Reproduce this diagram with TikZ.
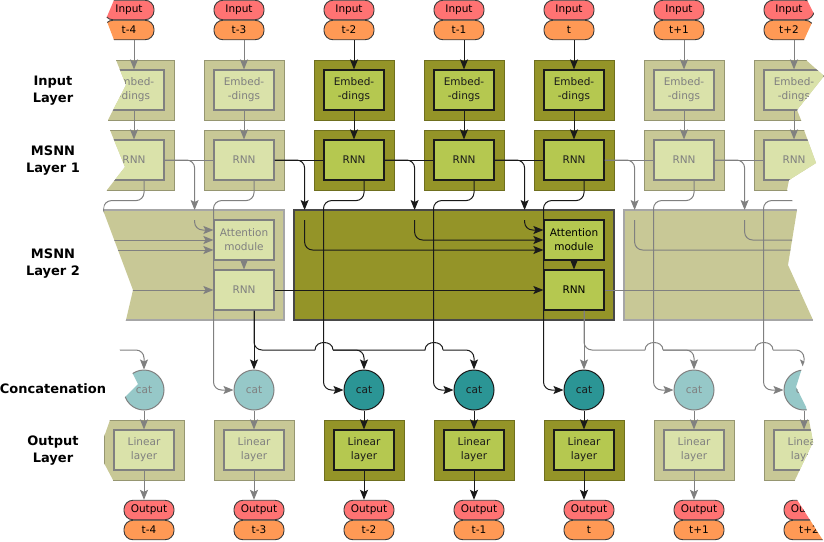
\documentclass[tikz,border=0pt]{standalone}
\usepackage{fontspec}
\setmainfont{DejaVu Sans}
\usetikzlibrary{arrows.meta, positioning, calc}
\definecolor{olivedeep}{HTML}{949428}
\definecolor{olivepale}{HTML}{C8C896}
\definecolor{limedeep}{HTML}{B5C850}
\definecolor{limepale}{HTML}{DAE2AA}
\definecolor{tealdeep}{HTML}{2B9595}
\definecolor{tealpale}{HTML}{96C8C8}
\definecolor{salmonpill}{HTML}{FF7373}
\definecolor{orangepill}{HTML}{FF9955}
\definecolor{wiregray}{HTML}{808080}
\definecolor{inkdark}{HTML}{1A1A1A}

\tikzset{
  arr/.style={-{Stealth[length=10pt,width=8pt,inset=2pt]}},
  wire/.style={line width=1pt},
  hop/.style={to path={.. controls ($(\tikztostart)+(0,-10)$) and ($(\tikztotarget)+(0,-10)$) .. (\tikztotarget)}},
  wrapbox/.style={rectangle, minimum width=80pt, minimum height=60pt, inner sep=0pt, line width=0.8pt},
  cellbox/.style={rectangle, minimum width=60pt, minimum height=40pt, inner sep=0pt, line width=1.2pt, align=center, font=\fontsize{10.5}{14}\selectfont},
  pill/.style={rectangle, rounded corners=9pt, minimum width=50pt, minimum height=19.5pt, inner sep=0pt, draw=inkdark!85, line width=0.9pt, font=\fontsize{10.5}{12}\selectfont},
  catnode/.style={circle, minimum size=40pt, inner sep=0pt, line width=1pt, font=\fontsize{10.5}{12}\selectfont},
  blockbox/.style={rectangle, minimum height=110pt, inner sep=0pt, line width=1.5pt},
  rowlabel/.style={align=center, font=\fontsize{13}{17}\selectfont\bfseries},
}

\begin{document}
\begin{tikzpicture}[x=1pt, y=-1pt]
  \useasboundingbox (0,0) rectangle (824,541);
  \begin{scope}
    % torn edges left and right
    \clip (114,-2) -- (114,0) -- (106,19) -- (114,40) -- (116,60) -- (126,85) -- (108,120)
      -- (110,130) -- (125,167) -- (107,190) -- (103,210) -- (133,290) -- (126,320)
      -- (117,345) -- (130,368) -- (138,384) -- (122,400) -- (118,415) -- (110,420)
      -- (104,437) -- (104,463) -- (113,480) -- (114,545)
      -- (826,545) -- (794,495) -- (795,480) -- (813,442) -- (809,420) -- (806,407)
      -- (796,387) -- (802,368) -- (808,352) -- (813,320) -- (788,265) -- (797,210)
      -- (787,190) -- (789,180) -- (816,163) -- (804,130) -- (801,120) -- (797,110)
      -- (824,76) -- (806,60) -- (804,40) -- (815,16) -- (807,0) -- (807,-2) -- cycle;

    % layer 2 blocks
    \node[blockbox, fill=olivepale, draw=wiregray!70, minimum width=200pt] (blkL) at (184,265) {};
    \node[blockbox, fill=olivedeep, draw=inkdark!80, minimum width=320pt] (blkM) at (454,265) {};
    \node[blockbox, fill=olivepale, draw=wiregray!70, minimum width=220pt] (blkR) at (734,265) {};
    \node[cellbox, fill=limepale, draw=wiregray, text=wiregray] (att2) at (244,240) {Attention\\module};
    \node[cellbox, fill=limepale, draw=wiregray, text=wiregray] (rnnb2) at (244,290) {RNN};
    \node[cellbox, fill=limedeep, draw=inkdark] (att5) at (574,240) {Attention\\module};
    \node[cellbox, fill=limedeep, draw=inkdark] (rnnb5) at (574,290) {RNN};

    % one column per time step
    \foreach \i/\lab/\oc/\ic/\cc/\lc in {1/t-4/olivepale/limepale/tealpale/wiregray,
        2/t-3/olivepale/limepale/tealpale/wiregray, 3/t-2/olivedeep/limedeep/tealdeep/inkdark,
        4/t-1/olivedeep/limedeep/tealdeep/inkdark, 5/t/olivedeep/limedeep/tealdeep/inkdark,
        6/t+1/olivepale/limepale/tealpale/wiregray, 7/t+2/olivepale/limepale/tealpale/wiregray}{
      \pgfmathsetmacro\cx{134+110*(\i-1)}
      \node[wrapbox, fill=\oc, draw=\oc!75!black] (embw\i) at (\cx,90) {};
      \node[cellbox, fill=\ic, draw=\lc, text=\lc] (emb\i) at (\cx,90) {Embed-\\-dings};
      \node[wrapbox, fill=\oc, draw=\oc!75!black] (rnnw\i) at (\cx,160) {};
      \node[cellbox, fill=\ic, draw=\lc, text=\lc] (rnn\i) at (\cx,160) {RNN};
      \node[catnode, fill=\cc, draw=\lc, text=\lc] (cat\i) at (\cx+10,390) {cat};
      \node[wrapbox, fill=\oc, draw=\oc!75!black] (linw\i) at (\cx+10,450) {};
      \node[cellbox, fill=\ic, draw=\lc, text=\lc] (lin\i) at (\cx+10,450) {Linear\\layer};
      \node[pill, fill=salmonpill] (inp\i) at (\cx-5,10) {Input};
      \node[pill, fill=orangepill] (tin\i) at (\cx-5,30) {\lab};
      \node[pill, fill=salmonpill] (out\i) at (\cx+15,510) {Output};
      \node[pill, fill=orangepill] (tout\i) at (\cx+15,530) {\lab};
      \draw[wire, arr, draw=\lc] (emb\i.north |- tin\i.south) -- (emb\i.north);
      \draw[wire, arr, draw=\lc] (emb\i.south) -- (rnn\i.north);
      \draw[wire, arr, draw=\lc, rounded corners=8pt] ($(rnn\i.south)+(10,0)$) -- ++(0,20)
        -| ($(cat\i.west)+(-20,0)$) -- (cat\i.west);
      \draw[wire, arr, draw=\lc] (cat\i.south) -- (lin\i.north);
      \draw[wire, arr, draw=\lc] (lin\i.south) -- (lin\i.south |- out\i.north);
    }

    % RNN chain of layer 1 and its taps into layer 2
    \foreach \j/\k/\lc in {1/2/wiregray, 2/3/inkdark, 3/4/inkdark, 4/5/inkdark, 5/6/wiregray, 6/7/wiregray}{
      \draw[wire, draw=\lc] (rnn\j.east) -- (rnn\k.west);
      \draw[wire, arr, draw=\lc, rounded corners=8pt] (rnn\j.east) -| ($(rnn\j.east)+(30,50)$);
    }

    % inside the blocks
    \draw[wire, arr, wiregray, rounded corners=8pt] ($(rnn1.east)+(30,60)$) |- ($(att2.west)+(0,-10)$);
    \draw[wire, arr, wiregray] ($(att2.west)+(-120,0)$) -- (att2.west);
    \draw[wire, arr, wiregray] ($(att2.west)+(-120,10)$) -- ($(att2.west)+(0,10)$);
    \draw[wire, arr, wiregray] (att2.south) -- (rnnb2.north);
    \draw[wire, arr, wiregray] ($(rnnb2.west)+(-120,0)$) -- (rnnb2.west);
    \draw[wire, arr, inkdark, rounded corners=8pt] ($(rnn2.east)+(30,60)$) |- ($(att5.west)+(0,10)$);
    \draw[wire, arr, inkdark, rounded corners=8pt] ($(rnn3.east)+(30,60)$) |- (att5.west);
    \draw[wire, arr, inkdark, rounded corners=8pt] ($(rnn4.east)+(30,60)$) |- ($(att5.west)+(0,-10)$);
    \draw[wire, arr, inkdark] (att5.south) -- (rnnb5.north);
    \draw[wire, arr, inkdark] (rnnb2.east) -- (rnnb5.west);
    \draw[wire, wiregray, rounded corners=8pt] ($(rnn5.east)+(30,60)$) |- ($(att5.west)+(300,10)$);
    \draw[wire, wiregray, rounded corners=8pt] ($(rnn6.east)+(30,60)$) |- ($(att5.west)+(300,0)$);
    \draw[wire, wiregray] (rnnb5.east) -- ++(240,0);

    % layer 2 outputs to the cat nodes
    \draw[wire, arr, wiregray, rounded corners=8pt] (100,350) -| (cat1.north);
    \draw[wire, arr, inkdark] ($(rnnb2.south)+(10,0)$) -- (cat2.north);
    \draw[wire, inkdark, rounded corners=8pt] ($(rnnb2.south)+(10,0)$) |- (315,350);
    \draw[wire, inkdark] (315,350) to[hop] (333,350);
    \draw[wire, arr, inkdark, rounded corners=8pt] (333,350) -| (cat3.north);
    \draw[wire, inkdark] (333,350) -- (425,350) to[hop] (443,350);
    \draw[wire, arr, inkdark, rounded corners=8pt] (443,350) -| (cat4.north);
    \draw[wire, arr, wiregray] ($(rnnb5.south)+(10,0)$) -- (cat5.north);
    \draw[wire, wiregray, rounded corners=8pt] ($(rnnb5.south)+(10,0)$) |- (645,350);
    \draw[wire, wiregray] (645,350) to[hop] (663,350);
    \draw[wire, arr, wiregray, rounded corners=8pt] (663,350) -| (cat6.north);
    \draw[wire, wiregray] (663,350) -- (755,350) to[hop] (773,350);
    \draw[wire, arr, wiregray, rounded corners=8pt] (773,350) -| (cat7.north);
  \end{scope}

  % row names
  \node[rowlabel] (lblIn) at (53,91) {Input\\Layer};
  \node[rowlabel] (lblMa) at (53,161) {MSNN\\Layer 1};
  \node[rowlabel] (lblMb) at (53,264) {MSNN\\Layer 2};
  \node[rowlabel] (lblCat) at (53,389) {Concatenation};
  \node[rowlabel] (lblOut) at (53,451) {Output\\Layer};
\end{tikzpicture}
\end{document}
